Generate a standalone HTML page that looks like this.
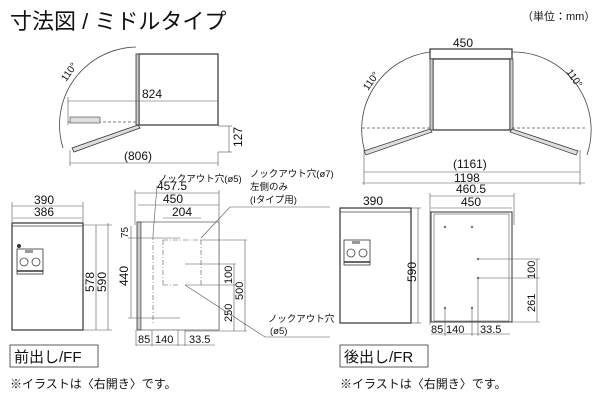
<!DOCTYPE html>
<html><head><meta charset="utf-8"><style>
html,body{margin:0;padding:0;background:#fff}
svg{display:block}
text{font-family:"Liberation Sans","Noto Sans CJK JP",sans-serif;fill:#111}
.l{stroke:#444;stroke-width:0.8;fill:none}
.d{stroke:#555;stroke-width:0.6;fill:none}
.b{stroke:#333;stroke-width:1.2;fill:#fff}
</style></head><body>
<svg width="600" height="400" viewBox="0 0 600 400" xmlns="http://www.w3.org/2000/svg">
<text x="10" y="29" font-size="22">寸法図 / ミドルタイプ</text>
<text x="522" y="20" font-size="11">（単位：mm）</text>

<rect x="139" y="54" width="79" height="71" class="b"/>
<rect x="136" y="54" width="3" height="71" fill="#ccc" stroke="#333" stroke-width="0.8"/>
<path d="M136 47 A 78 78 0 0 0 63 148" class="l"/>
<path d="M138 125 L72 148 L74 152 L140 128 Z" fill="#ddd" stroke="#333" stroke-width="0.8"/>
<path d="M68 122 L136 122" stroke="#555" stroke-dasharray="3,2" stroke-width="0.8"/>
<rect x="70" y="117" width="30" height="6" fill="#ddd" stroke="#444" stroke-width="0.6"/>
<line x1="68" y1="101" x2="218" y2="101" class="d"/><line x1="68" y1="97" x2="68" y2="125" class="d"/>
<text x="142" y="98" font-size="12">824</text>
<line x1="218" y1="126" x2="232" y2="126" class="d"/><line x1="218" y1="152" x2="232" y2="152" class="d"/>
<line x1="229" y1="126" x2="229" y2="152" class="d"/>
<text x="242" y="147" font-size="12" transform="rotate(-90 242 147)">127</text>
<line x1="70" y1="163" x2="218" y2="163" class="d"/><line x1="70" y1="150" x2="70" y2="166" class="d"/><line x1="218" y1="152" x2="218" y2="166" class="d"/>
<text x="124" y="160" font-size="12">(806)</text>
<text x="66" y="82" font-size="10" transform="rotate(-55 66 82)">110°</text>

<rect x="430" y="49" width="82" height="10" class="b"/>
<rect x="433" y="59" width="77" height="71" class="b"/>
<rect x="430" y="59" width="3" height="71" fill="#ccc" stroke="#333" stroke-width="0.7"/>
<rect x="510" y="59" width="3" height="71" fill="#ccc" stroke="#333" stroke-width="0.7"/>
<text x="453" y="47" font-size="12">450</text>
<path d="M430 52 A 78 78 0 0 0 366 155" class="l"/>
<path d="M512 52 A 78 78 0 0 1 587 155" class="l"/>
<path d="M430 129 L364 151 L366 155 L432 132 Z" fill="#ddd" stroke="#333" stroke-width="0.7"/>
<path d="M512 129 L578 151 L576 155 L510 132 Z" fill="#ddd" stroke="#333" stroke-width="0.7"/>
<path d="M362 128 L430 128 M512 128 L585 128" stroke="#555" stroke-dasharray="3,2" stroke-width="0.8"/>
<text x="368" y="91" font-size="10" transform="rotate(-55 368 91)">110°</text>
<text x="566" y="72" font-size="10" transform="rotate(55 566 72)">110°</text>
<line x1="364" y1="172" x2="580" y2="172" class="d"/>
<line x1="364" y1="150" x2="364" y2="185" class="d"/><line x1="580" y1="150" x2="580" y2="185" class="d"/>
<text x="453" y="168" font-size="12">(1161)</text>
<text x="454" y="182" font-size="12">1198</text>
<line x1="362" y1="183" x2="585" y2="183" class="d"/>

<text x="34" y="204" font-size="12">390</text>
<text x="34" y="216" font-size="12">386</text>
<line x1="12" y1="206" x2="83" y2="206" class="d"/><line x1="13" y1="218" x2="82" y2="218" class="d"/>
<line x1="12" y1="202" x2="12" y2="222" class="d"/><line x1="83" y1="202" x2="83" y2="222" class="d"/>
<rect x="12" y="223" width="71" height="107" class="b"/>
<line x1="12" y1="226" x2="83" y2="226" class="l"/>
<circle cx="19" cy="246" r="2" fill="#333"/>
<rect x="17" y="249" width="26" height="25" fill="#fff" stroke="#333" stroke-width="0.8"/>
<rect x="25" y="250" width="8" height="3" fill="#999"/>
<circle cx="24" cy="262" r="4" class="l"/><circle cx="36" cy="262" r="4" class="l"/>
<line x1="17" y1="271" x2="43" y2="271" stroke="#333" stroke-width="1.5"/>
<line x1="83" y1="225" x2="112" y2="225" class="d"/><line x1="83" y1="330" x2="112" y2="330" class="d"/>
<line x1="96" y1="225" x2="96" y2="330" class="d"/><line x1="108" y1="223" x2="108" y2="330" class="d"/>
<text x="94" y="292" font-size="12" transform="rotate(-90 94 292)">578</text>
<text x="106" y="292" font-size="12" transform="rotate(-90 106 292)">590</text>
<rect x="10" y="345" width="88" height="22" fill="none" stroke="#333" stroke-width="0.8"/>
<text x="14" y="362" font-size="15">前出し/FF</text>
<text x="10" y="388" font-size="12">※イラストは〈右開き〉です。</text>

<text x="157" y="190" font-size="12">457.5</text>
<text x="163" y="203" font-size="12">450</text>
<text x="172" y="216" font-size="12">204</text>
<line x1="135" y1="193" x2="219" y2="193" class="d"/><line x1="138" y1="205" x2="219" y2="205" class="d"/>
<line x1="163" y1="218" x2="201" y2="218" class="d"/>
<line x1="135" y1="190" x2="135" y2="225" class="d"/><line x1="219" y1="190" x2="219" y2="330" class="d"/>
<rect x="137" y="222" width="4" height="108" fill="#ccc" stroke="#333" stroke-width="0.8"/>
<rect x="141" y="222" width="78" height="108" fill="#fff" stroke="#555" stroke-width="0.7"/>
<path d="M153 235 V325 M163 240 V285 M201 240 V285 M163 240 H201 M163 285 H180" stroke="#555" stroke-dasharray="5,2,1,2" stroke-width="0.6" fill="none"/>
<path d="M128 238 H180 M128 318 H180" class="d"/>
<line x1="131" y1="226" x2="131" y2="318" class="d"/>
<text x="128" y="238" font-size="10" transform="rotate(-90 128 238)">75</text>
<text x="128" y="286" font-size="12" transform="rotate(-90 128 286)">440</text>
<path d="M185 264 H236 M185 285 H236 M201 240 H247 M185 331 H247" class="d"/>
<line x1="234" y1="264" x2="234" y2="331" class="d"/><line x1="245" y1="240" x2="245" y2="331" class="d"/>
<text x="232" y="284" font-size="11" transform="rotate(-90 232 284)">100</text>
<text x="232" y="322" font-size="11" transform="rotate(-90 232 322)">250</text>
<text x="243" y="300" font-size="11" transform="rotate(-90 243 300)">500</text>
<line x1="136" y1="330" x2="136" y2="346" class="d"/><line x1="152" y1="330" x2="152" y2="346" class="d"/><line x1="178" y1="330" x2="178" y2="346" class="d"/><line x1="185" y1="330" x2="185" y2="346" class="d"/>
<line x1="136" y1="345" x2="215" y2="345" class="d"/>
<text x="138" y="343" font-size="11">85</text>
<text x="155" y="343" font-size="11">140</text>
<text x="189" y="343" font-size="11">33.5</text>
<text x="158" y="182" font-size="9.5">ノックアウト穴(ø5)</text>
<line x1="157" y1="186" x2="153" y2="235" class="d"/>
<text x="250" y="177" font-size="9.5">ノックアウト穴(ø7)</text>
<text x="250" y="190" font-size="9.5">左側のみ</text>
<text x="250" y="203" font-size="9.5">(Iタイプ用)</text>
<path d="M201 238 L230 207 H330" class="d"/>
<text x="268" y="322" font-size="9.5">ノックアウト穴</text>
<text x="270" y="334" font-size="9.5">(ø5)</text>
<path d="M185 285 L265 337 H330" class="d"/>

<text x="363" y="205" font-size="12">390</text>
<line x1="340" y1="208" x2="411" y2="208" class="d"/>
<rect x="340" y="208" width="71" height="115" class="b"/>
<line x1="340" y1="212" x2="411" y2="212" class="l"/>
<rect x="344" y="240" width="26" height="25" fill="#fff" stroke="#333" stroke-width="0.8"/>
<rect x="352" y="241" width="8" height="3" fill="#999"/>
<circle cx="351" cy="253" r="4" class="l"/><circle cx="363" cy="253" r="4" class="l"/>
<line x1="344" y1="262" x2="370" y2="262" stroke="#333" stroke-width="1.5"/>
<line x1="411" y1="208" x2="421" y2="208" class="d"/><line x1="411" y1="323" x2="421" y2="323" class="d"/>
<line x1="418" y1="208" x2="418" y2="323" class="d"/>
<text x="416" y="282" font-size="12" transform="rotate(-90 416 282)">590</text>
<text x="456" y="193" font-size="12">460.5</text>
<text x="461" y="206" font-size="12">450</text>
<line x1="430" y1="196" x2="514" y2="196" class="d"/><line x1="431" y1="208" x2="512" y2="208" class="d"/>
<line x1="430" y1="193" x2="430" y2="325" class="d"/><line x1="514" y1="193" x2="514" y2="225" class="d"/>
<rect x="431" y="212" width="81" height="110" fill="#fff" stroke="#333" stroke-width="1"/>
<rect x="434" y="214" width="75" height="107" fill="#fff" stroke="#555" stroke-width="0.6"/>
<g fill="#777"><circle cx="445" cy="227" r="1.2"/><circle cx="472" cy="227" r="1.2"/><circle cx="478" cy="259" r="1.2"/><circle cx="478" cy="278" r="1.2"/><circle cx="445" cy="308" r="1.2"/><circle cx="472" cy="308" r="1.2"/></g>
<path d="M478 259 H540 M478 278 H540 M512 322 H540" class="d"/>
<line x1="537" y1="259" x2="537" y2="322" class="d"/>
<text x="535" y="279" font-size="11" transform="rotate(-90 535 279)">100</text>
<text x="535" y="312" font-size="11" transform="rotate(-90 535 312)">261</text>
<path d="M445 308 V336 M472 308 V336 M478 278 V336" class="d"/>
<line x1="431" y1="334" x2="510" y2="334" class="d"/>
<text x="431" y="333" font-size="11">85</text>
<text x="446" y="333" font-size="11">140</text>
<text x="480" y="333" font-size="11">33.5</text>
<rect x="340" y="345" width="88" height="22" fill="none" stroke="#333" stroke-width="0.8"/>
<text x="344" y="362" font-size="15">後出し/FR</text>
<text x="340" y="388" font-size="12">※イラストは〈右開き〉です。</text>
</svg>
</body></html>
